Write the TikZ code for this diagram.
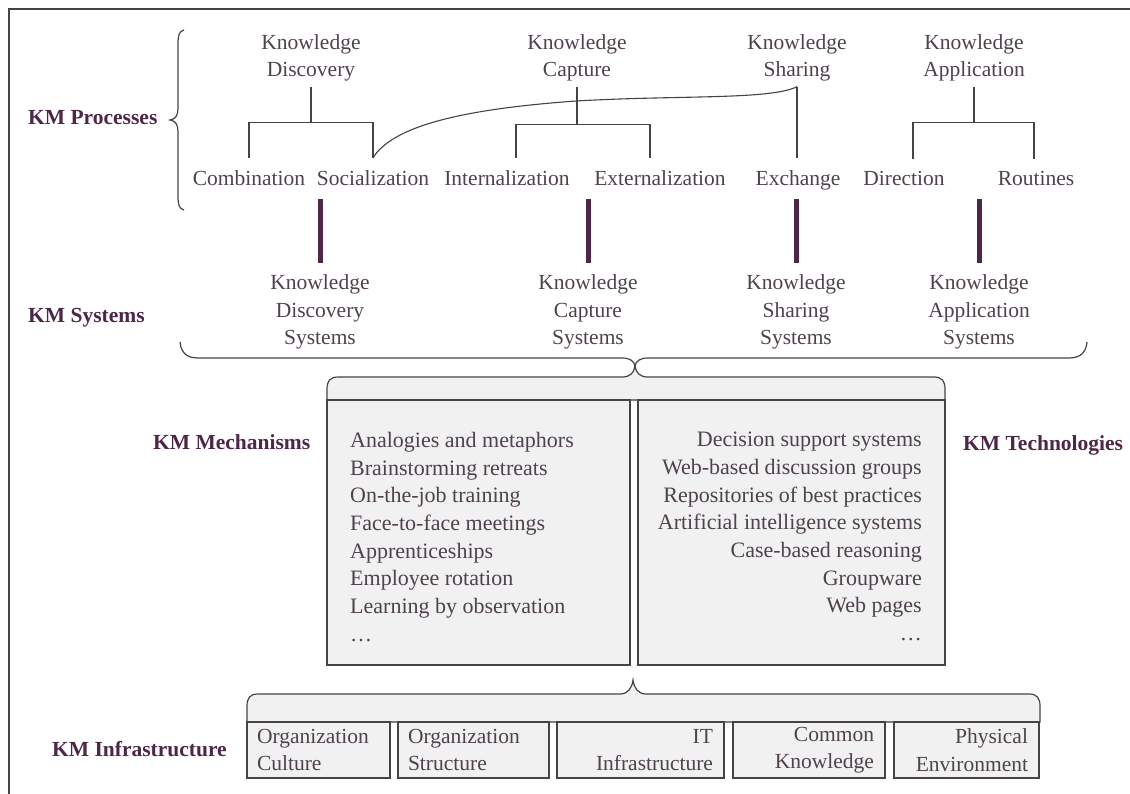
\documentclass[tikz,border=0pt]{standalone}
\usepackage{fontspec}
\setmainfont{Liberation Serif}
\usepackage{tikz}
\usetikzlibrary{calc}

\definecolor{kmpurple}{RGB}{78,38,72}
\definecolor{kmtext}{RGB}{78,66,78}
\definecolor{kmline}{RGB}{70,66,70}
\definecolor{kmfill}{RGB}{241,241,241}
\newcommand{\kmfont}{\fontsize{21.5}{27.5}\selectfont}
\newcommand{\kmlist}{\fontsize{22}{27.7}\selectfont}

\begin{document}
\begin{tikzpicture}[x=1pt, y=-1pt,
	every node/.style={font=\kmfont, text=kmtext},
	head/.style={align=center, inner xsep=2pt, inner ysep=5pt},
	proc/.style={anchor=base, inner xsep=2pt, inner ysep=13pt},
	sys/.style={align=center, inner xsep=2pt, inner ysep=12pt},
	kmlabel/.style={font=\kmfont\bfseries, text=kmpurple, anchor=base west, inner sep=0pt},
	kmbar/.style={draw=kmpurple, line width=5pt},
	tree/.style={draw=kmline, line width=1.1pt},
	brc/.style={draw=kmline, line width=1.2pt},
	infbox/.style={draw=kmline, line width=1.2pt, fill=kmfill, minimum height=56pt, anchor=north west, outer sep=0pt, inner ysep=0pt}]
	\useasboundingbox (0,0) rectangle (1130,794);
	\draw[kmline, line width=1.5pt] (1130,9) -- (9,9) -- (9,794);

	% KM processes
	\node[kmlabel] (kmp) at (28,125) {KM Processes};
	\draw[brc] (184,30) .. controls (179,31) and (178,36) .. (178,44) -- (178,108) .. controls (178,115) and (176,119) .. (170,120) .. controls (176,121) and (178,125) .. (178,132) -- (178,196) .. controls (178,204) and (179,209) .. (184,210);

	\node[head] (kd) at (311,58) {Knowledge\\Discovery};
	\node[head] (kc) at (577,58) {Knowledge\\Capture};
	\node[head] (ks) at (797,58) {Knowledge\\Sharing};
	\node[head] (ka) at (974,58) {Knowledge\\Application};

	\node[proc] (comb) at (249,186) {Combination};
	\node[proc] (soc) at (373,186) {Socialization};
	\node[proc] (int) at (507,186) {Internalization};
	\node[proc] (ext) at (660,186) {Externalization};
	\node[proc] (exch) at (798,186) {Exchange};
	\node[proc] (dir) at (904,186) {Direction};
	\node[proc] (rout) at (1036,186) {Routines};

	\draw[tree] (kd.south) -- ++(0,36) coordinate (kdj) -| (comb.north);
	\draw[tree] (kdj) -| (soc.north);
	\draw[tree] (kc.south) -- ++(0,38) coordinate (kcj) -| ([xshift=9pt]int.north);
	\draw[tree] (kcj) -| ([xshift=-10pt]ext.north);
	\draw[tree] (ks.south) -- (ks.south |- exch.north);
	\draw[tree] (ka.south) -- ++(0,36) coordinate (kaj) -| ([xshift=9pt]dir.north);
	\draw[tree] (kaj) -| ([xshift=-2pt]rout.north);
	\draw[tree] (soc.north) .. controls (395,122) and (480,108) .. (576,101) .. controls (680,95) and (770,100) .. (ks.south);

	% KM systems
	\node[kmlabel] (kms) at (28,323) {KM Systems};
	\node[sys] (kds) at (320,312) {Knowledge\\Discovery\\Systems};
	\node[sys] (kcs) at (588,312) {Knowledge\\Capture\\Systems};
	\node[sys] (kss) at (796,312) {Knowledge\\Sharing\\Systems};
	\node[sys] (kas) at (979,312) {Knowledge\\Application\\Systems};
	\foreach \s in {kds, kcs, kss, kas}
		\draw[kmbar] (\s.north) -- ++(0,-64);
	\draw[brc] (180,342) .. controls (181,352) and (186,358) .. (198,358) -- (622,358) .. controls (630,358) and (634,361) .. (635,366) .. controls (636,361) and (640,358) .. (648,358) -- (1069,358) .. controls (1081,358) and (1086,352) .. (1087,342);

	% KM mechanisms and technologies
	\filldraw[brc, fill=kmfill] (327,400) -- (327,389) .. controls (327,381) and (330,377) .. (338,377) -- (622,377) .. controls (630,377) and (634,373) .. (635,366) .. controls (636,373) and (640,377) .. (648,377) -- (934,377) .. controls (942,377) and (945,381) .. (945,389) -- (945,400) -- cycle;
	\filldraw[brc, fill=kmfill] (327,400) rectangle (630,665);
	\filldraw[brc, fill=kmfill] (638,400) rectangle (945,665);
	\node[kmlabel] (kmm) at (153,449) {KM Mechanisms};
	\node[kmlabel] (kmt) at (963,450) {KM Technologies};
	\node[anchor=north west, align=left, font=\kmlist, inner sep=0pt] (mech) at (350,432) {Analogies and metaphors\\Brainstorming retreats\\On-the-job training\\Face-to-face meetings\\Apprenticeships\\Employee rotation\\Learning by observation\\\dots};
	\node[anchor=north east, align=right, font=\kmlist, inner sep=0pt] (tech) at (922,432) {Decision support systems\\Web-based discussion groups\\Repositories of best practices\\Artificial intelligence systems\\Case-based reasoning\\Groupware\\Web pages\\\dots};

	% KM infrastructure
	\filldraw[brc, fill=kmfill] (247,722) -- (247,706) .. controls (247,698) and (250,694) .. (258,694) -- (620,694) .. controls (628,694) and (632,688) .. (633,680) .. controls (634,688) and (638,694) .. (646,694) -- (1029,694) .. controls (1037,694) and (1040,698) .. (1040,706) -- (1040,722) -- cycle;
	\node[kmlabel] (kmi) at (52,756) {KM Infrastructure};
	\node[infbox, text width=123pt, align=left, inner xsep=10pt] (oc) at (247,722) {Organization\\Culture};
	\node[infbox, text width=131pt, align=left, inner xsep=10pt] (os) at (398,722) {Organization\\Structure};
	\node[infbox, text width=145pt, align=right, inner xsep=11pt] (itb) at (557,722) {IT\\Infrastructure};
	\node[infbox, text width=130pt, align=right, inner xsep=11pt] (ck) at (733,722) {Common\\Knowledge};
	\node[infbox, text width=123pt, align=right, inner xsep=11pt] (pe) at (894,722) {Physical\\Environment};
\end{tikzpicture}
\end{document}
